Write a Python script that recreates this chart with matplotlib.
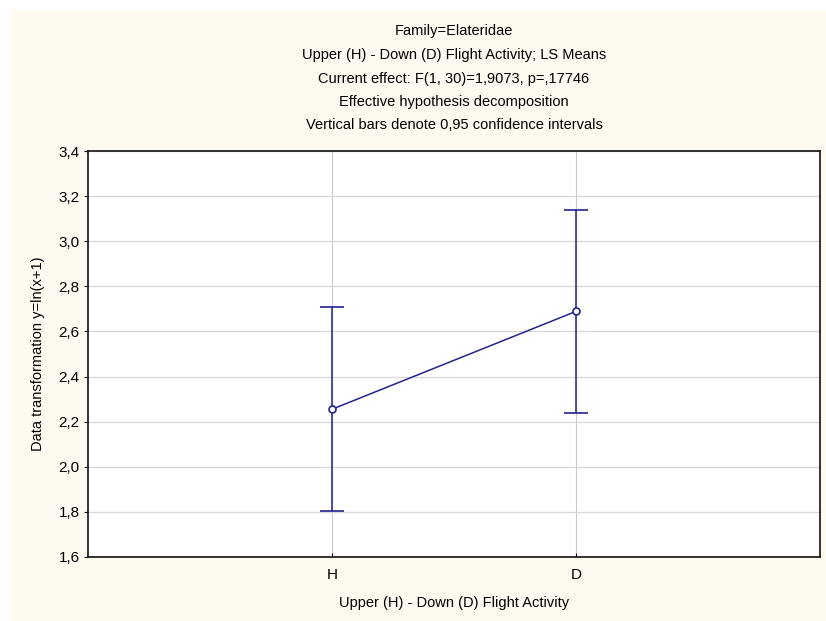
import matplotlib
matplotlib.use("Agg")
import matplotlib.pyplot as plt
from matplotlib.patches import Rectangle
from matplotlib.ticker import FuncFormatter

plt.rcParams['font.family'] = ['Liberation Sans', 'DejaVu Sans']

groups = ["H", "D"]
means = [2.255, 2.689]
lower = [1.803, 2.240]
upper = [2.710, 3.138]

title_lines = [
    "Family=Elateridae",
    "Upper (H) - Down (D) Flight Activity; LS Means",
    "Current effect: F(1, 30)=1,9073, p=,17746",
    "Effective hypothesis decomposition",
    "Vertical bars denote 0,95 confidence intervals",
]

W, H = 826, 621
fig = plt.figure(figsize=(W / 100, H / 100), dpi=100, facecolor="white")
# cream panel with a thin white margin top/left
fig.patches.append(Rectangle((11 / W, 0), 1 - 11 / W, 1 - 10 / H,
                             transform=fig.transFigure, facecolor="#fffaf0",
                             edgecolor="none", zorder=-5))

ax = fig.add_axes([88 / W, 1 - 557 / H, 732 / W, 406 / H])
ax.set_zorder(2)
ax.set_facecolor("white")

col = "#23238f"
xs = [1, 2]
yerr = [[m - l for m, l in zip(means, lower)], [u - m for m, u in zip(means, upper)]]
ax.errorbar(xs, means, yerr=yerr, color=col, lw=1.1, elinewidth=1.1,
            capsize=8.5, capthick=1.1, marker="o", markersize=5,
            markerfacecolor="white", markeredgecolor=col, markeredgewidth=1.2,
            zorder=3)

ax.set_xlim(0, 3)
ax.set_ylim(1.6, 3.4)
ax.set_xticks(xs)
ax.set_xticklabels(groups)
ax.set_yticks([1.6 + 0.2 * i for i in range(10)])
ax.yaxis.set_major_formatter(FuncFormatter(lambda v, p: f"{v:.1f}".replace(".", ",")))

ax.grid(True, axis="y", color="#d9d9d9", lw=1.0)
ax.grid(True, axis="x", color="#c8c8d0", lw=0.8)
ax.set_axisbelow(True)
for s in ax.spines.values():
    s.set_color("#222222")
    s.set_linewidth(1.3)

ax.tick_params(axis="y", direction="out", length=3, labelsize=11, pad=3)
ax.tick_params(axis="x", direction="in", length=3, labelsize=11, pad=8)

ax.set_ylabel("Data transformation y=ln(x+1)", fontsize=10.5, labelpad=10)
ax.set_xlabel("Upper (H) - Down (D) Flight Activity", fontsize=10.5, labelpad=10)

ys = [31, 55, 79, 102, 125]
for t, y in zip(title_lines, ys):
    fig.text(454 / W, 1 - y / H, t, ha="center", va="center", fontsize=10.5)

fig.savefig("out.png", dpi=100, facecolor=fig.get_facecolor())
